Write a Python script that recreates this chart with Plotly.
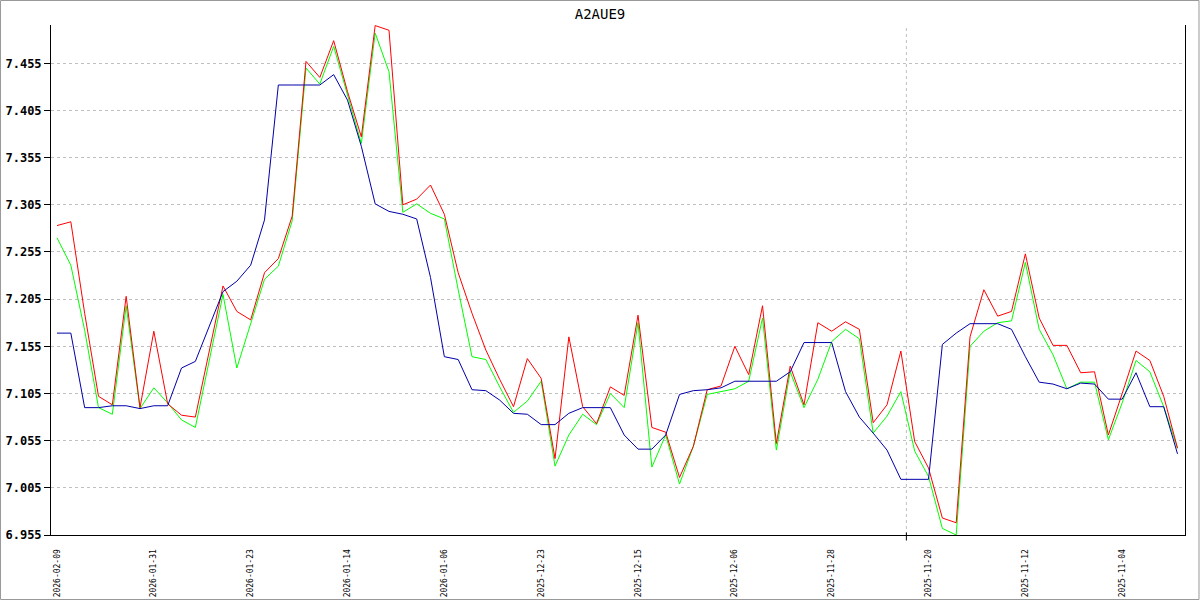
import plotly.graph_objects as go

title_text = "A2AUE9"

tick_dates = ["2026-02-09", "2026-01-31", "2026-01-23", "2026-01-14", "2026-01-06",
              "2025-12-23", "2025-12-15", "2025-12-06", "2025-11-28", "2025-11-20",
              "2025-11-12", "2025-11-04"]
tick_index = [0, 7, 14, 21, 28, 35, 42, 49, 56, 63, 70, 77]

red_values = [7.283, 7.287, 7.190, 7.102, 7.093, 7.208, 7.090, 7.171, 7.094, 7.082,
              7.080, 7.150, 7.219, 7.192, 7.183, 7.233, 7.248, 7.293, 7.457, 7.440,
              7.479, 7.425, 7.377, 7.495, 7.490, 7.305, 7.311, 7.326, 7.295, 7.233,
              7.190, 7.151, 7.120, 7.091, 7.142, 7.121, 7.036, 7.165, 7.091, 7.073,
              7.112, 7.103, 7.188, 7.069, 7.064, 7.016, 7.049, 7.109, 7.113, 7.155,
              7.125, 7.198, 7.052, 7.134, 7.093, 7.180, 7.171, 7.181, 7.173, 7.074,
              7.093, 7.150, 7.054, 7.026, 6.973, 6.968, 7.165, 7.215, 7.187, 7.192,
              7.253, 7.185, 7.156, 7.156, 7.127, 7.128, 7.061, 7.105, 7.150, 7.140,
              7.102, 7.047]

green_values = [7.270, 7.241, 7.172, 7.090, 7.083, 7.198, 7.089, 7.111, 7.095, 7.077,
                7.069, 7.141, 7.210, 7.132, 7.180, 7.226, 7.240, 7.288, 7.450, 7.433,
                7.473, 7.421, 7.370, 7.487, 7.446, 7.297, 7.306, 7.296, 7.290, 7.215,
                7.144, 7.141, 7.112, 7.085, 7.097, 7.118, 7.028, 7.061, 7.083, 7.072,
                7.105, 7.090, 7.180, 7.027, 7.061, 7.009, 7.049, 7.104, 7.107, 7.110,
                7.118, 7.185, 7.045, 7.128, 7.090, 7.120, 7.160, 7.173, 7.163, 7.063,
                7.081, 7.107, 7.044, 7.017, 6.962, 6.955, 7.155, 7.171, 7.180, 7.182,
                7.244, 7.173, 7.146, 7.110, 7.117, 7.117, 7.056, 7.095, 7.140, 7.128,
                7.091, 7.047]

blue_values = [7.169, 7.169, 7.090, 7.090, 7.092, 7.092, 7.089, 7.092, 7.092, 7.132,
               7.139, 7.176, 7.213, 7.224, 7.241, 7.289, 7.432, 7.432, 7.432, 7.432,
               7.443, 7.416, 7.367, 7.306, 7.298, 7.295, 7.290, 7.228, 7.144, 7.141,
               7.109, 7.108, 7.098, 7.084, 7.083, 7.072, 7.072, 7.084, 7.090, 7.090,
               7.090, 7.061, 7.046, 7.046, 7.061, 7.104, 7.108, 7.109, 7.111, 7.118,
               7.118, 7.118, 7.118, 7.128, 7.159, 7.159, 7.159, 7.107, 7.080, 7.063,
               7.045, 7.014, 7.014, 7.014, 7.157, 7.169, 7.179, 7.179, 7.179, 7.173,
               7.144, 7.117, 7.115, 7.110, 7.116, 7.115, 7.099, 7.099, 7.127, 7.091,
               7.091, 7.041]

y_ticks = [6.955, 7.005, 7.055, 7.105, 7.155, 7.205, 7.255, 7.305, 7.355, 7.405, 7.455]
marker_index = 61.4

x = list(range(len(red_values)))

fig = go.Figure()
fig.add_trace(go.Scatter(x=x, y=green_values, mode="lines",
                         line=dict(color="#00ff00", width=1), cliponaxis=False))
fig.add_trace(go.Scatter(x=x, y=red_values, mode="lines",
                         line=dict(color="#ff0000", width=1), cliponaxis=False))
fig.add_trace(go.Scatter(x=x, y=blue_values, mode="lines",
                         line=dict(color="#0000aa", width=1), cliponaxis=False))

L, R, T, B = 51, 14.5, 25, 65
W, H = 1200 - L - R, 600 - T - B

def px_x(p):
    return (p - L) / W

def px_y(p):
    return (600 - B - p) / H

shapes = [
    dict(type="line", xref="x", yref="paper", x0=marker_index, x1=marker_index, y0=0, y1=1,
         line=dict(color="#c0c0c0", width=1, dash="3px,3px"), layer="below"),
    dict(type="line", xref="x", yref="paper", x0=marker_index, x1=marker_index,
         y0=px_y(540.5), y1=px_y(532.5), line=dict(color="#000000", width=1)),
    dict(type="rect", xref="paper", yref="paper", x0=px_x(0.5), x1=px_x(1199.5),
         y0=px_y(599.5), y1=px_y(0.5), line=dict(color="#999999", width=1)),
]

fig.update_layout(
    width=1200, height=600,
    margin=dict(l=L, r=R, t=T, b=B, autoexpand=False),
    paper_bgcolor="white", plot_bgcolor="white",
    showlegend=False,
    title=dict(text=title_text, x=0.5, xref="container", xanchor="center",
               y=1 - 14 / 600, yref="container", yanchor="middle", automargin=False,
               font=dict(family="DejaVu Sans Mono", size=14, color="#000000")),
    shapes=shapes,
    xaxis=dict(
        range=[-0.434, 81.54], showgrid=False, zeroline=False, automargin=False,
        showline=True, linecolor="#000000", linewidth=1,
        tickmode="array", tickvals=tick_index, ticktext=tick_dates,
        tickangle=-90, ticks="", ticklabelstandoff=10,
        tickfont=dict(family="DejaVu Sans Mono", size=8, color="#000000"),
    ),
    yaxis=dict(
        range=[6.955, 7.4956], showgrid=True, gridcolor="#c0c0c0", griddash="3px,3px",
        gridwidth=1, zeroline=False, automargin=False,
        showline=True, linecolor="#000000", linewidth=1, mirror=True,
        tickmode="array", tickvals=y_ticks, ticktext=[f"{v:.3f}" for v in y_ticks],
        ticks="outside", ticklen=6, tickcolor="#000000",
        tickfont=dict(family="DejaVu Sans Mono", size=12, color="#000000", weight="bold"),
    ),
)

fig.write_html(
    "out.html",
    config={"displayModeBar": False},
    post_script="document.body.style.margin='0';document.body.style.overflow='hidden';",
)
